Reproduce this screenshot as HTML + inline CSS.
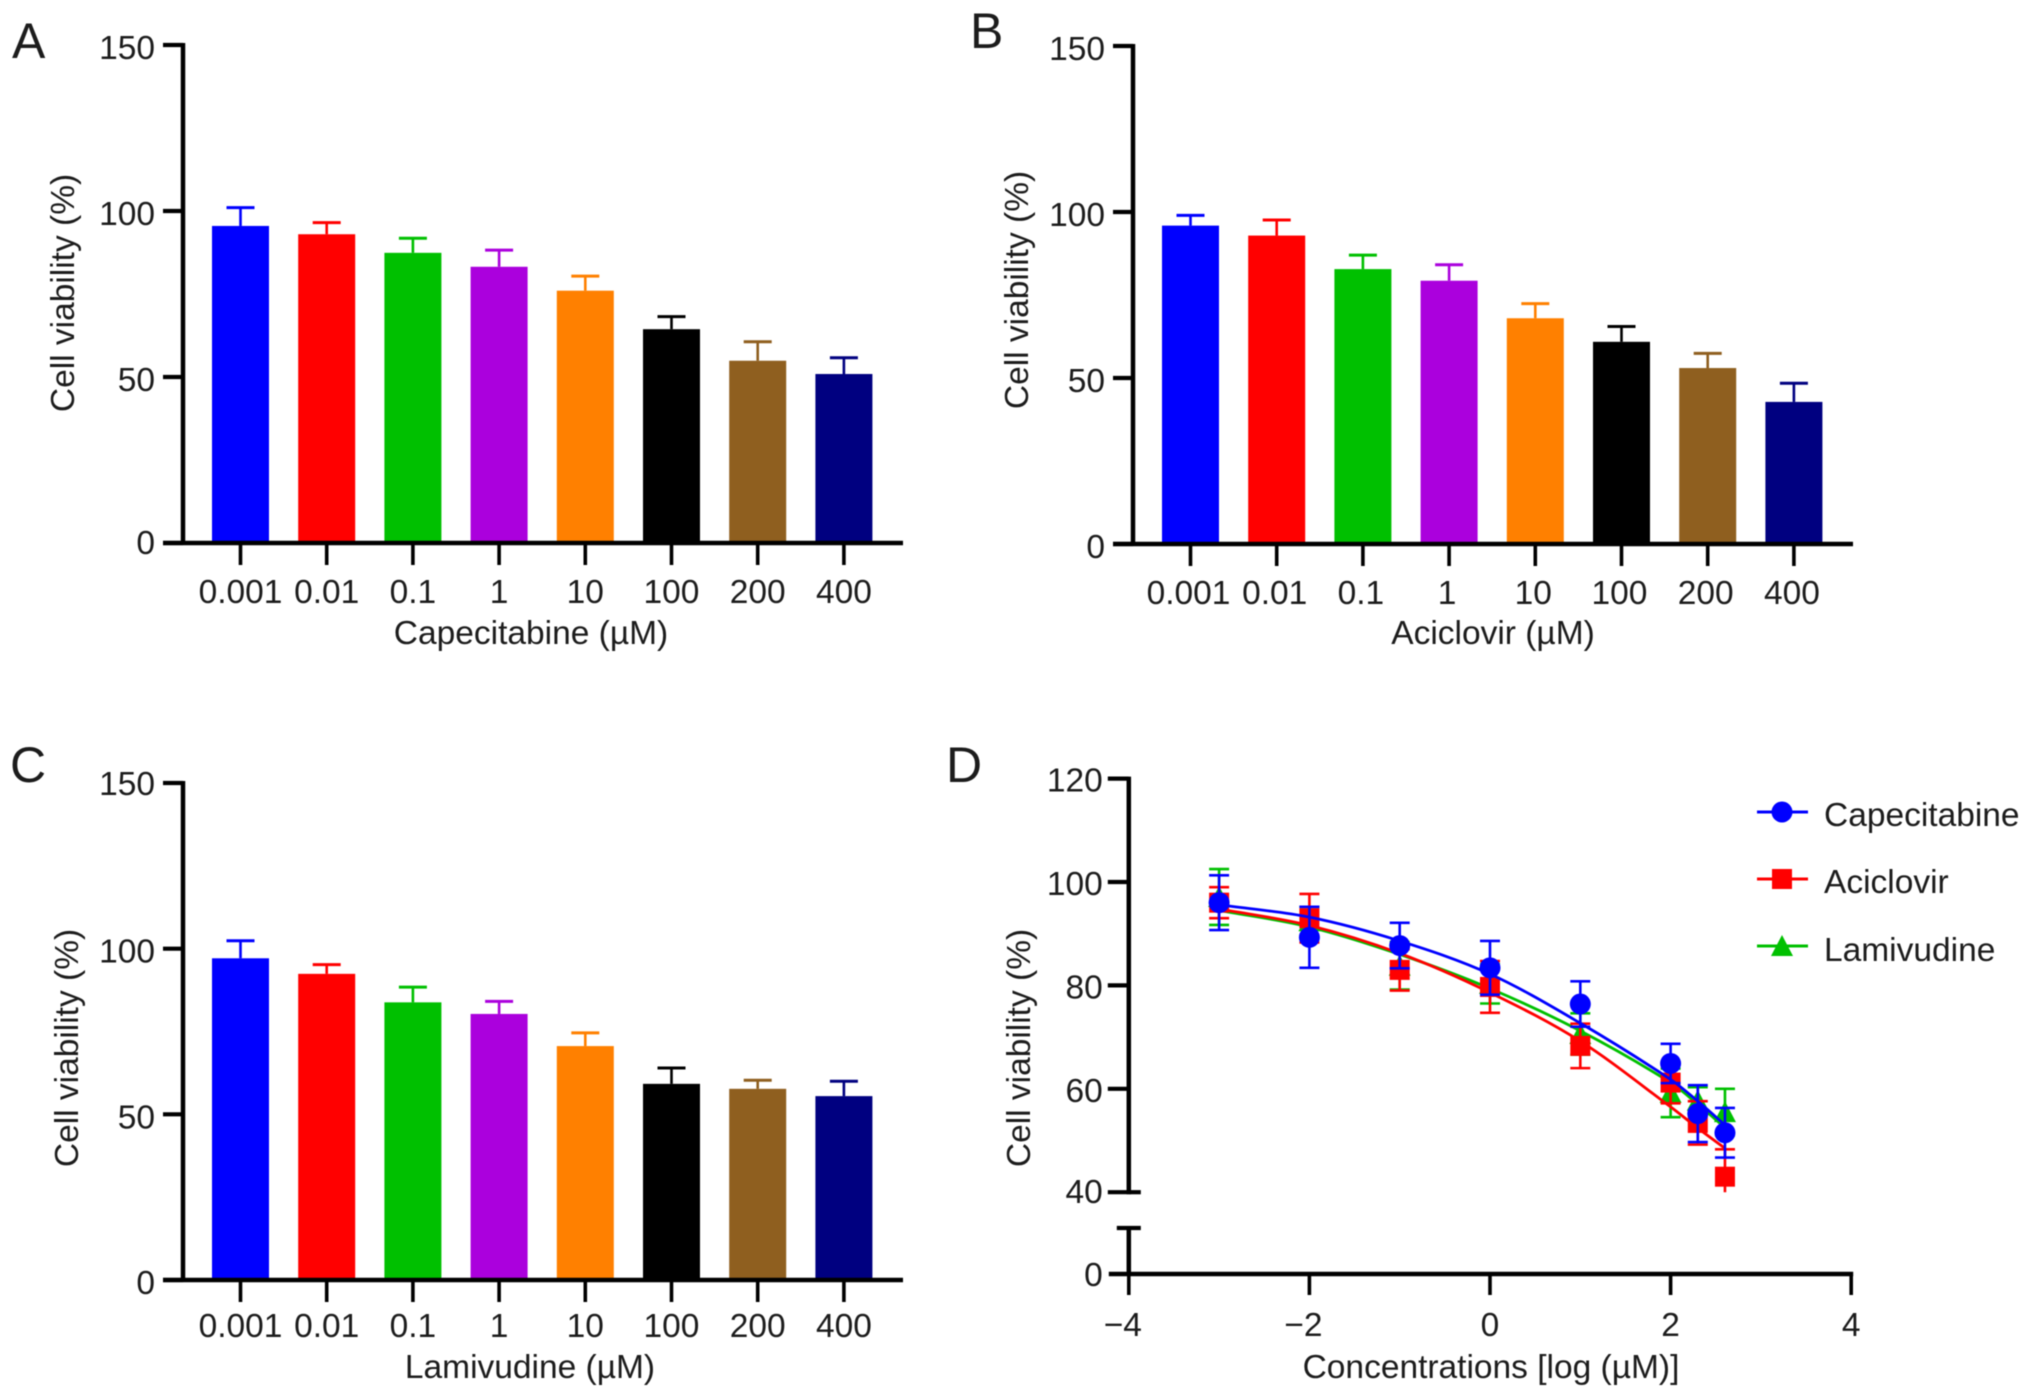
<!DOCTYPE html>
<html lang="en">
<head>
<meta charset="utf-8">
<title>Cell viability panels</title>
<style>
  html, body { margin: 0; padding: 0; background: #fff; }
  #figure { display: block; filter: blur(0.6px); }
  text { font-family: "Liberation Sans", Arial, sans-serif; fill: #1c1c1c; font-size: 33.5px; }
  .panel-letter { font-size: 50px; }
</style>
</head>
<body>
<svg id="figure" xmlns="http://www.w3.org/2000/svg" width="2032" height="1398" viewBox="0 0 2032 1398">
  <rect x="0" y="0" width="2032" height="1398" fill="#ffffff"/>
  <text class="panel-letter" x="12" y="58">A</text>
  <text class="panel-letter" x="970" y="48">B</text>
  <text class="panel-letter" x="10" y="782">C</text>
  <text class="panel-letter" x="946" y="782">D</text>

  <text text-anchor="middle" transform="translate(74 293) rotate(-90)">Cell viability (%)</text>
  <text text-anchor="middle" transform="translate(1028 290) rotate(-90)">Cell viability (%)</text>
  <text text-anchor="middle" transform="translate(78 1048) rotate(-90)">Cell viability (%)</text>
  <text text-anchor="middle" transform="translate(1030 1048) rotate(-90)">Cell viability (%)</text>

  <text text-anchor="middle" x="531" y="644">Capecitabine (µM)</text>
  <text text-anchor="middle" x="1493" y="644">Aciclovir (µM)</text>
  <text text-anchor="middle" x="530" y="1378">Lamivudine (µM)</text>
  <text text-anchor="middle" x="1491" y="1378">Concentrations [log (µM)]</text>

  <g id="panel-a"></g>
  <g id="panel-b"></g>
  <g id="panel-c"></g>
  <g id="panel-d"></g>

  <g>
    <g>
      <line x1="1757" x2="1808" y1="812" y2="812" stroke="#0000ff" stroke-width="3"/>
      <circle cx="1782" cy="812" r="10.5" fill="#0000ff"/>
      <text x="1824" y="826">Capecitabine</text>
    </g>
    <g>
      <line x1="1757" x2="1808" y1="879" y2="879" stroke="#ff0000" stroke-width="3"/>
      <rect x="1772" y="869" width="20" height="20" fill="#ff0000"/>
      <text x="1824" y="893">Aciclovir</text>
    </g>
    <g>
      <line x1="1757" x2="1808" y1="946" y2="946" stroke="#00c000" stroke-width="3"/>
      <polygon points="1782,935 1793,956 1771,956" fill="#00c000"/>
      <text x="1824" y="961">Lamivudine</text>
    </g>
  </g>
</svg>

<script>
// ---------- bar chart data ----------
const categories = ["0.001", "0.01", "0.1", "1", "10", "100", "200", "400"];
const barColors = ["#0000ff", "#ff0000", "#00c000", "#ab00dd", "#ff8000", "#000000", "#8f5f1f", "#000080"];
const barTicks = [0, 50, 100, 150];
const capecitabineBars = [95.5, 93, 87.4, 83.2, 76, 64.4, 54.9, 50.9];
const capecitabineBarErr = [5.5, 3.5, 4.4, 5.0, 4.4, 3.8, 5.7, 4.9];
const aciclovirBars = [95.9, 92.9, 82.8, 79.3, 68, 60.9, 53, 42.8];
const aciclovirBarErr = [3.1, 4.7, 4.2, 4.8, 4.4, 4.6, 4.4, 5.6];
const lamivudineBars = [97.1, 92.4, 83.8, 80.3, 70.6, 59.2, 57.7, 55.5];
const lamivudineBarErr = [5.3, 2.8, 4.6, 3.8, 4.0, 4.8, 2.6, 4.5];

// ---------- dose-response data ----------
const xTickValues = [-4, -2, 0, 2, 4];
const xTickLabels = ["\u22124", "\u22122", "0", "2", "4"];
const yTickValues = [40, 60, 80, 100, 120];
const logConcentrations = [-3, -2, -1, 0, 1, 2, 2.301, 2.602];
const capecitabinePoints = [96, 89.3, 87.7, 83.4, 76.4, 64.9, 55.2, 51.5];
const capecitabineErr = [5.3, 5.9, 4.4, 5.2, 4.4, 3.8, 5.5, 4.8];
const capecitabineFit = [95.6, 93.2, 88.6, 82.2, 72.7, 61.8, 57.6, 53];
const aciclovirPoints = [96, 93, 83, 79.7, 68.3, 61.2, 53.4, 43];
const aciclovirErr = [3, 4.7, 4, 5, 4.3, 4, 4.2, 5.3];
const aciclovirFit = [94.8, 91.6, 86.2, 78.6, 69.2, 56.5, 52.4, 48.5];
const lamivudinePoints = [97.1, 92.4, 83.8, 80.3, 70.6, 59.2, 57.7, 55.5];
const lamivudineErr = [5.4, 2.8, 4.6, 3.8, 4, 4.7, 2.6, 4.5];
const lamivudineFit = [94.5, 91.3, 86, 79.4, 71.2, 61.2, 57, 52.5];

const SVG_NS = "http://www.w3.org/2000/svg";
function mk(parent, tag, attrs, text) {
  const el = document.createElementNS(SVG_NS, tag);
  for (const k in attrs) el.setAttribute(k, attrs[k]);
  if (text !== undefined) el.textContent = text;
  parent.appendChild(el);
  return el;
}

function drawBarPanel(id, geom, means, errs) {
  const root = document.getElementById(id);
  const yScale = v => geom.y0 + (geom.y150 - geom.y0) * v / 150;
  const xScale = i => geom.x0 + geom.step * i;
  const barW = 57, capW = 28;

  means.forEach((m, i) => {
    const cx = xScale(i), c = barColors[i];
    const stem = mk(root, "line", { x1: cx, x2: cx, y1: yScale(m), y2: yScale(m + errs[i]), stroke: c, "stroke-width": 2.6 });
    
    
    const cap = mk(root, "line", { x1: cx - capW / 2, x2: cx + capW / 2, y1: yScale(m + errs[i]), y2: yScale(m + errs[i]), stroke: c, "stroke-width": 3 });
    
    
    const bar = mk(root, "rect", { x: cx - barW / 2, y: yScale(m), width: barW, height: geom.y0 - yScale(m), fill: c });
    
    
  });

  const yAxis = mk(root, "line", { x1: geom.axisX, x2: geom.axisX, y1: yScale(150) - 2, y2: geom.y0 + 2, stroke: "#000", "stroke-width": 4.5 });
  
  
  const xAxis = mk(root, "line", { x1: geom.axisX - 20, x2: geom.axisX + 720, y1: geom.y0, y2: geom.y0, stroke: "#000", "stroke-width": 4.5 });
  
  

  barTicks.forEach(v => {
    const t = mk(root, "line", { x1: geom.axisX - 20, x2: geom.axisX, y1: yScale(v), y2: yScale(v), stroke: "#000", "stroke-width": 4.2 });
    
    
    const extra = v === 0 ? geom.zeroLabelDy : (v === 150 ? geom.topLabelDy : 0);
    const l = mk(root, "text", { x: geom.axisX - 28, y: yScale(v) + 14 + extra, "text-anchor": "end" }, String(v));
    
    
  });
  categories.forEach((c, i) => {
    const t = mk(root, "line", { x1: xScale(i), x2: xScale(i), y1: geom.y0, y2: geom.y0 + 22, stroke: "#000", "stroke-width": 3.6 });
    
    
    const l = mk(root, "text", { x: xScale(i) + geom.labelDx, y: geom.y0 + geom.labelDy, "text-anchor": "middle" }, c);
    
    
  });
}

drawBarPanel("panel-a", { axisX: 183, y0: 543, y150: 45, x0: 240.5, step: 86.2, labelDy: 60, labelDx: 0, zeroLabelDy: -3, topLabelDy: 0 }, capecitabineBars, capecitabineBarErr);
drawBarPanel("panel-b", { axisX: 1133, y0: 544, y150: 46, x0: 1190.5, step: 86.2, labelDy: 60, labelDx: -2, zeroLabelDy: 0, topLabelDy: 0 }, aciclovirBars, aciclovirBarErr);
drawBarPanel("panel-c", { axisX: 183, y0: 1280, y150: 783, x0: 240.5, step: 86.2, labelDy: 57, labelDx: 0, zeroLabelDy: 0, topLabelDy: -2 }, lamivudineBars, lamivudineBarErr);

// ---------- panel D ----------
(function () {
  const root = document.getElementById("panel-d");
  const X0 = 1490, XS = 90.3;
  const xScale = v => X0 + XS * v;
  const yScale = v => 882 + (100 - v) * 5.17;
  const axisX = xScale(-4), zeroY = 1274, breakY = 1228, clipValue = 40;

  // smooth fitted curve through the read-off values
  function curvePath(xs, ys) {
    const p = xs.map((x, i) => [xScale(x), yScale(ys[i])]);
    let d = "M" + p[0][0] + " " + p[0][1];
    for (let i = 0; i < p.length - 1; i++) {
      const a = p[Math.max(i - 1, 0)], b = p[i], c = p[i + 1], e = p[Math.min(i + 2, p.length - 1)];
      const t = (c[0] - b[0]) / 3;
      const s1 = (c[1] - a[1]) / (c[0] - a[0]), s2 = (e[1] - b[1]) / (e[0] - b[0]);
      d += " C" + (b[0] + t) + " " + (b[1] + s1 * t) + " " + (c[0] - t) + " " + (c[1] - s2 * t) + " " + c[0] + " " + c[1];
    }
    return d;
  }

  function drawSeries(name, color, pts, errs, fit, marker) {
    const g = mk(root, "g", {});
    
    
    const curve = mk(g, "path", { d: curvePath(logConcentrations, fit), fill: "none", stroke: color, "stroke-width": 2.8 });
    
    
    pts.forEach((v, i) => {
      const cx = xScale(logConcentrations[i]), cy = yScale(v);
      const hi = yScale(v + errs[i]);
      const clipped = v - errs[i] < clipValue;              // the lower whisker is cut off by the axis break
      const lo = yScale(Math.max(v - errs[i], clipValue));
      let d = "M" + cx + " " + hi + "V" + lo + "M" + (cx - 10) + " " + hi + "H" + (cx + 10);
      if (!clipped) d += "M" + (cx - 10) + " " + lo + "H" + (cx + 10);
      const bar = mk(g, "path", { d: d, fill: "none", stroke: color, "stroke-width": 2.6 });
      
      
      let m;
      if (marker === "circle") m = mk(g, "circle", { cx: cx, cy: cy, r: 10.5, fill: color });
      else if (marker === "square") m = mk(g, "rect", { x: cx - 10, y: cy - 10, width: 20, height: 20, fill: color });
      else m = mk(g, "polygon", { points: cx + "," + (cy - 11) + " " + (cx + 11) + "," + (cy + 10) + " " + (cx - 11) + "," + (cy + 10), fill: color });
      
      
    });
  }
  drawSeries("lamivudine", "#00c000", lamivudinePoints, lamivudineErr, lamivudineFit, "triangle");
  drawSeries("aciclovir", "#ff0000", aciclovirPoints, aciclovirErr, aciclovirFit, "square");
  drawSeries("capecitabine", "#0000ff", capecitabinePoints, capecitabineErr, capecitabineFit, "circle");

  const upper = mk(root, "line", { x1: axisX, x2: axisX, y1: yScale(120) - 2, y2: yScale(40) + 2, stroke: "#000", "stroke-width": 4.5 });
  
  
  const lower = mk(root, "line", { x1: axisX, x2: axisX, y1: breakY, y2: zeroY, stroke: "#000", "stroke-width": 4.5 });
  
  
  const capLow = mk(root, "line", { x1: axisX - 12, x2: axisX + 12, y1: breakY, y2: breakY, stroke: "#000", "stroke-width": 4.2 });
  
  
  const capHigh = mk(root, "line", { x1: axisX, x2: axisX + 12, y1: yScale(40), y2: yScale(40), stroke: "#000", "stroke-width": 4.2 });
  
  
  const xAxis = mk(root, "line", { x1: axisX - 20, x2: xScale(4) + 2, y1: zeroY, y2: zeroY, stroke: "#000", "stroke-width": 4.5 });
  
  

  yTickValues.forEach(v => {
    const t = mk(root, "line", { x1: axisX - 21, x2: axisX, y1: yScale(v), y2: yScale(v), stroke: "#000", "stroke-width": 4.2 });
    
    
    const l = mk(root, "text", { x: axisX - 26, y: yScale(v) + 13 - (v === 40 ? 2 : 0), "text-anchor": "end" }, String(v));
    
    
  });
  const zeroLabel = mk(root, "text", { x: axisX - 26, y: zeroY + 12, "text-anchor": "end" }, "0");
  
  

  xTickValues.forEach((v, i) => {
    const t = mk(root, "line", { x1: xScale(v), x2: xScale(v), y1: zeroY, y2: zeroY + 21, stroke: "#000", "stroke-width": 3.6 });
    
    
    const l = mk(root, "text", { x: xScale(v) - (v < 0 ? 6 : 0), y: zeroY + 62, "text-anchor": "middle" }, xTickLabels[i]);
    
    
  });
})();
</script>
</body>
</html>
